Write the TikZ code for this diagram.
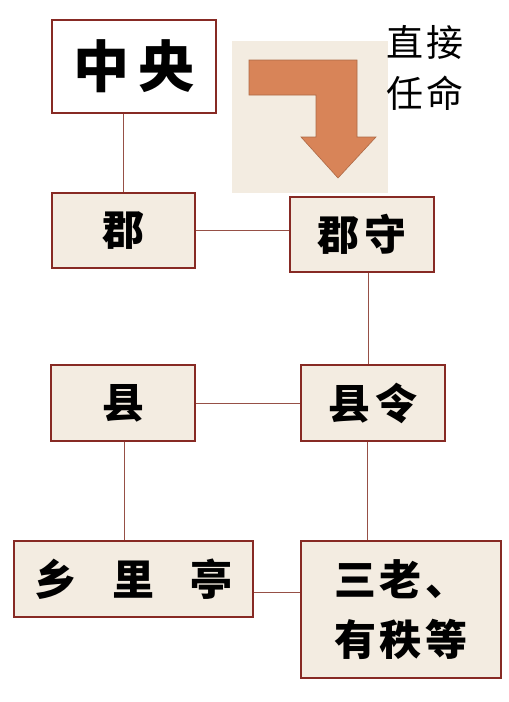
\documentclass[tikz,border=0pt]{standalone}
\usepackage{fontspec}
\setmainfont{Noto Sans CJK SC}
\usetikzlibrary{positioning}
\definecolor{boxred}{RGB}{135,42,36}
\definecolor{boxfill}{RGB}{243,236,225}
\definecolor{linkbrown}{RGB}{150,80,70}
\definecolor{arroworange}{RGB}{216,132,88}

\begin{document}
\begin{tikzpicture}[x=1pt,y=-1pt,
  office/.style={draw=boxred,line width=1.3pt,fill=boxfill,inner sep=0pt,font=\fontsize{42}{60}\selectfont\bfseries},
  link/.style={draw=linkbrown,line width=0.8pt}]
\useasboundingbox (0,0) rectangle (509,702);
% top level
\node[office,fill=white,minimum width=164pt,minimum height=93pt,font=\fontsize{56}{60}\selectfont\bfseries] (zhongyang) at (134,66.5) {中\hspace{10pt}央};
% appointment arrow
\fill[boxfill] (232,41) rectangle (388,193);
\draw[fill=arroworange,draw=arroworange!80!black,line width=0.6pt] (249,60)--(357,60)--(357,137)--(376,137)--(338,178)--(301,137)--(316,137)--(316,95)--(249,95)--cycle;
\node[align=left,font=\fontsize{37}{51}\selectfont] (zhijie) at (425,68) {直\hspace{4pt}接\\任\hspace{4pt}命};
% commandery and county
\node[office,minimum width=143pt,minimum height=75pt] (jun) at (123.5,230.5) {郡};
\node[office,minimum width=144pt,minimum height=75pt] (junshou) at (362,234.5) {郡\hspace{6pt}守};
\node[office,minimum width=144pt,minimum height=76pt] (xian) at (123,403) {县};
\node[office,minimum width=144pt,minimum height=76pt] (xianling) at (373,403) {县\hspace{6pt}令};
% lowest level
\node[office,minimum width=239pt,minimum height=76pt] (xiang) at (133.5,579) {乡\hspace{36pt}里\hspace{36pt}亭};
\node[office,minimum width=200pt,minimum height=137pt,align=left] (sanlao) at (401,609.5) {三\hspace{4pt}老\hspace{4pt}、\\有\hspace{4pt}秩\hspace{4pt}等};
% links
\draw[link] (jun.north) -- (jun.north |- zhongyang.south);
\draw[link] (jun.east) -- (jun.east -| junshou.west);
\draw[link] ([xshift=6pt]junshou.south) -- ([xshift=6pt]junshou.south |- xianling.north);
\draw[link] (xian.east) -- (xian.east -| xianling.west);
\draw[link] ([xshift=1pt]xian.south) -- ([xshift=1pt]xian.south |- xiang.north);
\draw[link] ([xshift=-6pt]xianling.south) -- ([xshift=-6pt]xianling.south |- sanlao.north);
\draw[link] ([yshift=-13pt]xiang.east) -- ([yshift=-13pt]xiang.east -| sanlao.west);
\end{tikzpicture}
\end{document}
